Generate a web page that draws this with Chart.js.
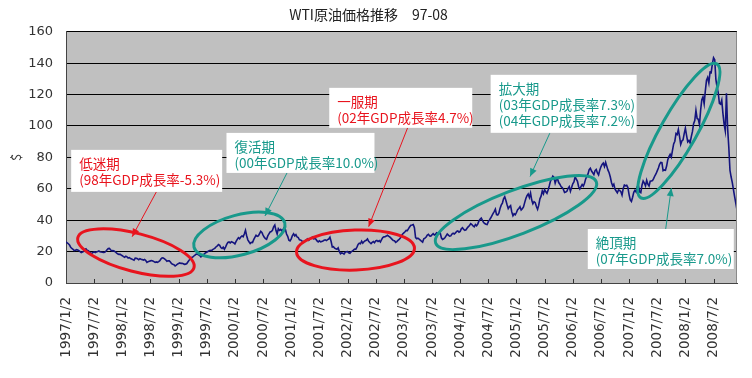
<!DOCTYPE html>
<html>
<head>
  <meta charset="utf-8">
  <title>WTI原油価格推移 97-08</title>
  <script src="https://cdn.jsdelivr.net/npm/chart.js"></script>
  <style>
    body { margin: 0; background: #fff; }
  </style>
</head>
<body>
  <canvas id="wtiChart" width="752" height="378"></canvas>

  <script>
    // half-year tick labels (every 6 months)
    const tickLabels = [
      '1997/1/2', '1997/7/2', '1998/1/2', '1998/7/2', '1999/1/2', '1999/7/2',
      '2000/1/2', '2000/7/2', '2001/1/2', '2001/7/2', '2002/1/2', '2002/7/2',
      '2003/1/2', '2003/7/2', '2004/1/2', '2004/7/2', '2005/1/2', '2005/7/2',
      '2006/1/2', '2006/7/2', '2007/1/2', '2007/7/2', '2008/1/2', '2008/7/2'
    ];

    // WTI price ($): 4 points per month
    const p1997 = [26.2,25.6,25.0,24.2, 22.8,22.0,21.5,20.6, 20.9,21.2,21.0,20.6, 20.0,19.4,19.7,20.1,
                   21.3,21.8,20.9,20.6, 19.9,19.1,18.9,19.5, 19.8,19.4,19.8,20.0, 20.4,19.9,19.7,19.6,
                   19.4,19.6,20.2,21.2, 21.9,22.0,21.2,20.5, 20.6,20.4,19.9,19.2, 18.6,18.2,18.4,17.8];
    const p1998 = [17.4,16.8,16.4,17.1, 16.6,15.9,16.2,15.6, 15.3,14.9,14.5,15.8, 15.7,15.4,14.8,15.5,
                   15.1,14.9,14.6,15.0, 14.3,13.1,13.6,13.9, 14.1,14.3,14.0,13.6, 13.1,13.4,13.2,13.6,
                   14.2,15.4,16.0,15.9, 15.4,14.8,13.9,14.2, 14.1,13.4,12.3,11.9, 11.6,10.9,11.4,12.0];
    const p1999 = [12.4,12.8,12.5,12.6, 12.3,11.9,12.0,12.4, 13.5,14.6,15.9,16.3, 16.5,17.2,17.8,18.4,
                   18.3,18.0,17.5,16.6, 17.2,17.9,18.6,19.3, 19.5,20.1,20.5,20.8, 20.6,21.3,21.7,22.2,
                   23.1,23.7,24.5,24.0, 22.6,22.0,22.8,21.5, 22.9,24.6,25.8,26.1, 25.5,26.3,26.0,25.6];
    const p2000 = [24.9,26.5,27.8,28.9, 28.2,29.3,30.0,29.5, 31.2,33.5,30.1,27.5, 26.3,25.2,25.9,25.7,
                   27.6,29.1,30.4,29.7, 30.0,31.5,32.9,32.2, 30.5,29.1,28.3,27.8, 30.0,31.3,32.5,32.8,
                   33.6,35.8,36.9,33.4, 31.2,34.6,33.5,34.1, 33.2,34.0,35.3,34.2, 31.2,29.7,27.3,26.8];
    const p2001 = [28.1,30.2,31.3,30.0, 30.8,29.3,28.9,27.5, 27.4,26.8,26.2,26.6, 26.8,27.7,28.1,27.2,
                   28.0,28.6,29.2,28.1, 28.4,27.9,26.8,26.2, 26.9,26.2,26.5,26.8, 27.2,27.5,27.0,27.6,
                   28.0,29.2,26.4,22.9, 23.1,22.2,21.8,21.5, 22.4,20.1,18.6,19.2, 19.0,18.4,19.6,19.9];
    const p2002 = [20.0,19.2,18.9,19.8, 20.3,20.9,21.6,21.4, 22.9,24.6,25.3,25.0, 26.6,25.4,26.3,26.9,
                   27.2,28.1,26.6,25.8, 25.1,25.9,26.4,25.6, 26.8,27.1,26.4,27.0, 26.1,27.6,28.9,29.4,
                   29.5,29.9,30.4,29.8, 29.3,28.6,27.8,27.0, 26.9,25.9,26.4,27.1, 27.8,28.6,30.1,31.2];
    const p2003 = [31.9,32.6,33.5,33.4, 34.6,35.8,36.8,37.0, 37.3,35.2,28.9,28.2, 28.6,28.0,27.3,26.6,
                   26.0,28.2,28.6,29.3, 30.5,31.0,30.0,29.9, 30.7,31.4,30.6,31.0, 32.0,31.7,31.5,31.9,
                   28.8,27.8,28.2,28.8, 30.0,31.2,30.5,29.8, 30.0,31.1,31.7,31.2, 31.9,32.8,33.2,32.4];
    const p2004 = [32.9,34.5,35.2,34.1, 33.5,33.9,35.0,35.9, 36.6,37.8,37.2,36.3, 35.8,37.2,36.5,37.5,
                   39.5,40.6,41.3,39.9, 38.5,37.9,37.4,37.2, 39.1,40.2,41.4,42.8, 44.2,45.5,47.0,43.5,
                   43.3,44.5,47.4,49.6, 50.9,53.6,54.9,52.5, 49.8,47.4,48.5,49.3, 45.3,42.8,44.1,43.5];
    const p2005 = [44.9,46.7,47.5,48.6, 46.5,47.3,48.4,51.2, 53.8,55.6,56.7,54.5, 57.3,52.8,50.5,51.8,
                   51.2,48.7,46.9,49.6, 53.6,55.3,58.6,56.8, 59.5,58.1,57.1,59.3, 61.9,64.9,66.3,68.0,
                   67.2,63.6,65.9,66.3, 64.0,62.9,61.4,60.8, 59.6,57.6,57.9,58.4, 60.3,61.4,58.4,60.8];
    const p2006 = [63.2,64.4,67.6,66.2, 64.8,61.3,59.9,61.4, 62.7,61.7,63.5,66.3, 67.9,69.5,72.2,73.1,
                   71.3,70.2,69.0,71.6, 72.3,70.1,68.8,71.9, 74.0,75.5,76.4,74.2, 76.8,74.3,71.9,70.2,
                   67.5,64.0,61.8,62.9, 59.8,58.6,57.4,59.2, 58.9,58.2,56.0,60.2, 62.4,61.9,62.2,60.8];
    const p2007 = [56.3,52.9,51.9,54.6, 57.8,59.1,58.0,61.4, 61.6,58.0,57.5,62.3, 65.0,63.7,61.9,65.4,
                   62.9,61.8,64.8,65.0, 65.2,66.6,68.3,69.6, 71.4,73.2,75.6,76.8, 76.6,71.5,72.0,71.8,
                   74.5,78.6,80.5,81.9, 80.2,84.5,88.6,90.3, 95.2,94.6,97.8,93.4, 88.3,90.5,91.2,95.1];
    const p2008 = [98.6,94.1,89.9,90.8, 89.2,93.1,96.4,101.5, 103.5,109.9,104.8,104.3, 100.9,110.1,116.7,118.5,
                   114.1,122.4,129.1,130.9, 127.4,134.3,134.0,139.6, 143.5,142.2,129.7,124.7, 121.3,114.4,113.9,116.5,
                   108.0,101.2,97.0,120.9, 98.5,86.6,71.8,67.5, 63.9,59.3,54.9,50.8, 46.5];

    const prices = [].concat(p1997, p1998, p1999, p2000, p2001, p2002,
                             p2003, p2004, p2005, p2006, p2007, p2008);

    const RED = '#e8141e';
    const TEAL = '#18998b';

    // notes: box / ellipse centre / arrow given in data units (month, $); sizes in px
    const notes = [
      { color: RED,  lines: ['低迷期', '(98年GDP成長率-5.3%)'],
        box: [1.1, 84.8, 151, 42],   ellipse: [14.9, 19.4, 60, 19, 14.5],   arrow: [19.25, 58.0, 14.1, 29.5] },
      { color: TEAL, lines: ['復活期', '(00年GDP成長率10.0%)'],
        box: [34.2, 95.6, 148, 40],  ellipse: [36.95, 30.6, 47, 20, -15],   arrow: [47.1, 70.1, 42.4, 42.7] },
      { color: RED,  lines: ['一服期', '(02年GDP成長率4.7%)'],
        box: [56.1, 124.3, 143, 40], ellipse: [61.7, 21.0, 59, 20, -2],     arrow: [72.8, 98.8, 64.5, 35.9] },
      { color: TEAL, lines: ['拡大期', '(03年GDP成長率7.3%)', '(04年GDP成長率7.2%)'],
        box: [90.5, 132.6, 146, 58], ellipse: [95.9, 44.9, 86, 22, -21],    arrow: [103.1, 95.4, 98.9, 67.8] },
      { color: TEAL, lines: ['絶頂期', '(07年GDP成長率7.0%)'],
        box: [111.2, 34.4, 146, 40], ellipse: [130.6, 96.9, 77, 18, -60.5], arrow: [127.8, 34.4, 129.0, 60.4] }
    ];

    const notesPlugin = {
      id: 'notes',
      beforeDraw(chart) {
        const { ctx, chartArea: a } = chart;
        ctx.save();
        ctx.fillStyle = '#c0c0c0';
        ctx.fillRect(a.left, a.top, a.right - a.left, a.bottom - a.top);
        ctx.restore();
      },
      afterDraw(chart) {
        const { ctx, chartArea: a, scales: { x, y } } = chart;
        ctx.save();

        // small ticks pointing into the plot
        ctx.strokeStyle = '#333';
        ctx.lineWidth = 1;
        tickLabels.forEach((_, k) => {
          if (k === 0) return;
          const px = Math.round(x.getPixelForValue(k * 6)) + 0.5;
          ctx.beginPath();
          ctx.moveTo(px, a.bottom);
          ctx.lineTo(px, a.bottom - 4);
          ctx.stroke();
        });
        ctx.strokeStyle = '#8a8a8a';
        ctx.beginPath();
        ctx.moveTo(a.right - 0.5, a.top);
        ctx.lineTo(a.right - 0.5, a.bottom);
        ctx.stroke();

        notes.forEach(n => {
          const [ex, ey, rx, ry, rot] = n.ellipse;
          ctx.strokeStyle = n.color;
          ctx.lineWidth = 3;
          ctx.beginPath();
          ctx.ellipse(x.getPixelForValue(ex), y.getPixelForValue(ey), rx, ry, rot * Math.PI / 180, 0, Math.PI * 2);
          ctx.stroke();

          // arrow
          const x0 = x.getPixelForValue(n.arrow[0]), y0 = y.getPixelForValue(n.arrow[1]);
          const x1 = x.getPixelForValue(n.arrow[2]), y1 = y.getPixelForValue(n.arrow[3]);
          const ang = Math.atan2(y1 - y0, x1 - x0);
          ctx.lineWidth = 1;
          ctx.beginPath();
          ctx.moveTo(x0, y0);
          ctx.lineTo(x1, y1);
          ctx.stroke();
          ctx.fillStyle = n.color;
          ctx.beginPath();
          ctx.moveTo(x1, y1);
          ctx.lineTo(x1 - 8 * Math.cos(ang) + 3.5 * Math.sin(ang), y1 - 8 * Math.sin(ang) - 3.5 * Math.cos(ang));
          ctx.lineTo(x1 - 8 * Math.cos(ang) - 3.5 * Math.sin(ang), y1 - 8 * Math.sin(ang) + 3.5 * Math.cos(ang));
          ctx.closePath();
          ctx.fill();
        });

        notes.forEach(n => {
          const bx = x.getPixelForValue(n.box[0]), by = y.getPixelForValue(n.box[1]);
          ctx.fillStyle = '#fff';
          ctx.fillRect(bx, by, n.box[2], n.box[3]);
          ctx.fillStyle = n.color;
          ctx.font = '13.5px "Noto Sans CJK JP"';
          ctx.textBaseline = 'middle';
          ctx.textAlign = 'left';
          n.lines.forEach((t, i) => ctx.fillText(t, bx + 8, by + 14 + i * 16));
        });
        ctx.restore();
      }
    };

    Chart.defaults.font.family = '"Noto Sans CJK JP", sans-serif';
    Chart.defaults.color = '#333';

    const ctx = document.getElementById('wtiChart').getContext('2d');
    new Chart(ctx, {
      type: 'line',
      data: {
        datasets: [{
          label: 'WTI',
          data: prices.map((v, i) => ({ x: i / 4, y: v })),
          borderColor: '#14147e',
          borderWidth: 1.6,
          pointRadius: 0,
          tension: 0
        }]
      },
      options: {
        responsive: false,
        animation: false,
        devicePixelRatio: 1,
        layout: { padding: { left: 0, right: 15, top: 0, bottom: 0 } },
        plugins: {
          legend: { display: false },
          tooltip: { enabled: false },
          title: {
            display: true,
            text: 'WTI原油価格推移　97-08',
            color: '#222',
            font: { size: 14, weight: 'normal' },
            padding: { top: 6, bottom: 9 }
          }
        },
        scales: {
          x: {
            type: 'linear',
            min: 0,
            max: 143,
            grid: { display: false, drawTicks: false },
            border: { color: '#444' },
            afterBuildTicks: s => { s.ticks = tickLabels.map((_, k) => ({ value: k * 6 })); },
            afterFit: s => { s.height = 95; },
            ticks: {
              autoSkip: false,
              minRotation: 90,
              maxRotation: 90,
              padding: 14,
              font: { family: '"DejaVu Sans", sans-serif', size: 13.5 },
              callback: v => tickLabels[Math.round(v / 6)]
            }
          },
          y: {
            min: 0,
            max: 160,
            grid: { color: '#000', drawTicks: false },
            border: { color: '#444' },
            afterFit: s => { s.width = 66; },
            title: { display: true, text: '$', font: { size: 13 }, padding: { top: 8 } },
            ticks: { stepSize: 20, padding: 13, font: { family: '"DejaVu Sans", sans-serif', size: 13 } }
          }
        }
      },
      plugins: [notesPlugin]
    });
  </script>
</body>
</html>
